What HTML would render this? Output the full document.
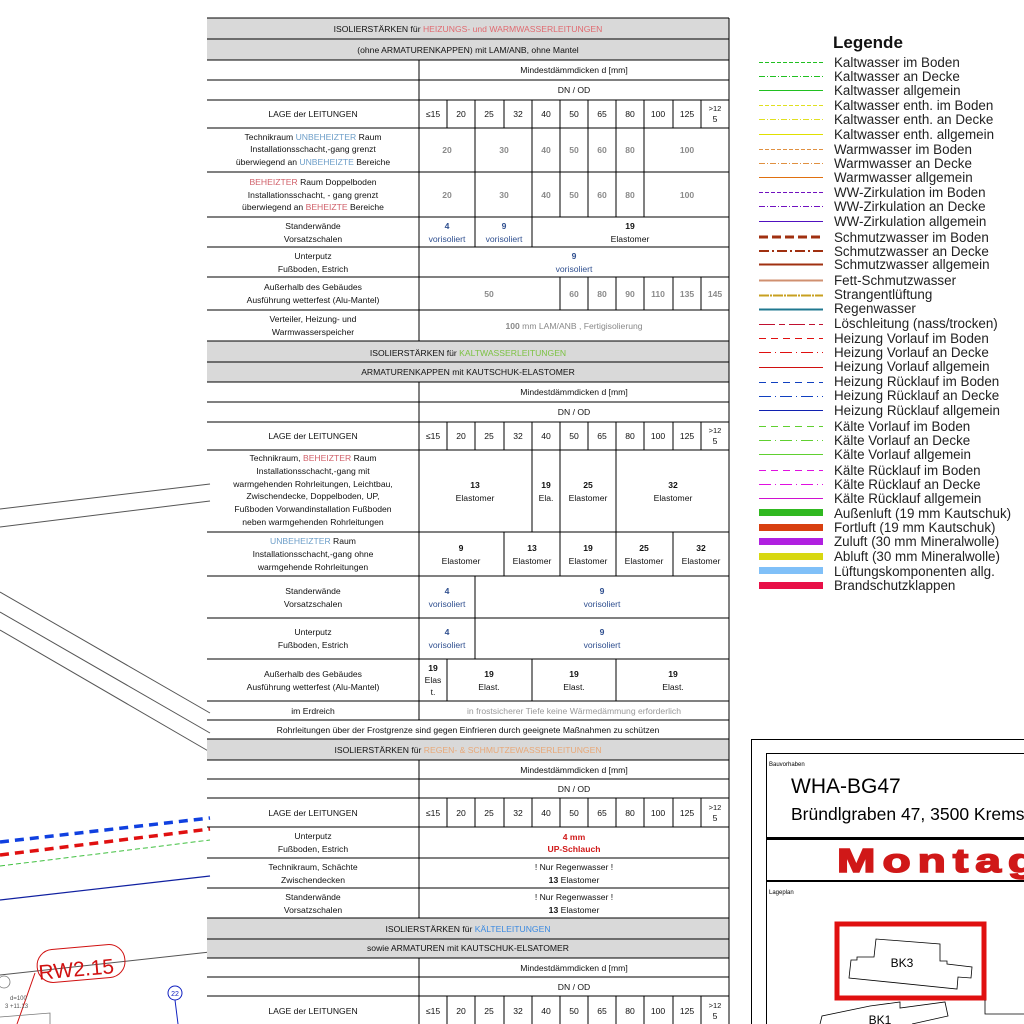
<!DOCTYPE html>
<html><head><meta charset="utf-8"><style>
html,body{margin:0;padding:0;background:#fff;width:1024px;height:1024px;overflow:hidden}
svg{display:block}
.t{font-family:"Liberation Sans",sans-serif;font-size:8.6px;fill:#111;text-anchor:middle}
.g{fill:#8a8a8a;font-weight:bold}
.b{fill:#2f4f8f}
.bb{fill:#2f4f8f;font-weight:bold}
.k{font-weight:bold}
.lg{font-family:"Liberation Sans",sans-serif;font-size:13.4px;fill:#222}
</style></head><body>
<svg width="1024" height="1024" viewBox="0 0 1024 1024" xmlns="http://www.w3.org/2000/svg">
<g stroke="#555" stroke-width="1" fill="none">
<line x1="0" y1="509" x2="210" y2="484"/>
<line x1="0" y1="527" x2="210" y2="501"/>
<line x1="0" y1="592" x2="210" y2="713"/>
<line x1="0" y1="612" x2="210" y2="733"/>
<line x1="0" y1="630" x2="210" y2="752"/>
<line x1="0" y1="975" x2="210" y2="952"/>
</g>
<line x1="0" y1="842" x2="210" y2="818" stroke="#1040e0" stroke-width="3.5" stroke-dasharray="9,6"/>
<line x1="0" y1="855" x2="210" y2="829" stroke="#e01010" stroke-width="3.5" stroke-dasharray="9,6"/>
<line x1="0" y1="866" x2="210" y2="840" stroke="#40c040" stroke-width="1" stroke-dasharray="5,3"/>
<line x1="0" y1="900" x2="210" y2="876" stroke="#1020a0" stroke-width="1.2"/>
<rect x="37" y="947" width="88" height="33" rx="16" transform="rotate(-5 81 963)" fill="none" stroke="#d01010" stroke-width="1"/>
<text x="38" y="976" font-family="Liberation Sans,sans-serif" font-size="21" fill="#d01010" transform="rotate(-5 81 963)">RW2.15</text>
<line x1="35" y1="973" x2="17" y2="1024" stroke="#d01010" stroke-width="1"/>
<circle cx="4" cy="982" r="6" fill="none" stroke="#777" stroke-width="0.8"/>
<text x="10" y="1000" font-family="Liberation Sans,sans-serif" font-size="6" fill="#555">d=100</text>
<text x="5" y="1008" font-family="Liberation Sans,sans-serif" font-size="6" fill="#555">3 +11.13</text>
<path d="M0 1017 L50 1013 L50 1024" fill="none" stroke="#777" stroke-width="0.8"/>
<circle cx="175" cy="993" r="7" fill="none" stroke="#1020c0" stroke-width="1"/>
<text x="175" y="996" font-family="Liberation Sans,sans-serif" font-size="7" fill="#1020c0" text-anchor="middle">22</text>
<line x1="175" y1="1000" x2="178" y2="1024" stroke="#1020c0" stroke-width="1"/>

<g fill="#d9d9d9">
<rect x="207" y="18" width="522" height="42"/>
<rect x="207" y="341" width="522" height="41"/>
<rect x="207" y="739" width="522" height="21"/>
<rect x="207" y="918" width="522" height="40"/>
</g>
<g stroke="#000" stroke-width="1" shape-rendering="crispEdges">
<line x1="207" y1="18" x2="729" y2="18"/>
<line x1="729" y1="18" x2="729" y2="1024"/>
<line x1="419" y1="60" x2="419" y2="341"/>
<line x1="419" y1="382" x2="419" y2="720"/>
<line x1="419" y1="760" x2="419" y2="918"/>
<line x1="419" y1="958" x2="419" y2="1024"/>
<path d="M207 39H729M207 60H729M207 80H729M207 100H729M207 128H729M207 172H729M207 217H729M207 247H729M207 277H729M207 310H729M207 341H729M207 362H729M207 382H729M207 402H729M207 422H729M207 450H729M207 532H729M207 576H729M207 618H729M207 659H729M207 701H729M207 720H729M207 739H729M207 760H729M207 779H729M207 798H729M207 827H729M207 858H729M207 888H729M207 918H729M207 939H729M207 958H729M207 977H729M207 996H729"/>
<path d="M447 100V128M475 100V128M504 100V128M532 100V128M560 100V128M588 100V128M616 100V128M644 100V128M673 100V128M701 100V128"/>
<path d="M447 422V450M475 422V450M504 422V450M532 422V450M560 422V450M588 422V450M616 422V450M644 422V450M673 422V450M701 422V450"/>
<path d="M447 798V827M475 798V827M504 798V827M532 798V827M560 798V827M588 798V827M616 798V827M644 798V827M673 798V827M701 798V827"/>
<path d="M447 996V1024M475 996V1024M504 996V1024M532 996V1024M560 996V1024M588 996V1024M616 996V1024M644 996V1024M673 996V1024M701 996V1024"/>
<path d="M475 128V217M532 128V217M560 128V217M588 128V217M616 128V217M644 128V217"/>
<path d="M475 217V247M532 217V247"/>
<path d="M560 277V310M588 277V310M616 277V310M644 277V310M673 277V310M701 277V310"/>
<path d="M532 450V532M560 450V532M616 450V532"/>
<path d="M504 532V576M560 532V576M616 532V576M673 532V576"/>
<path d="M475 576V659"/>
<path d="M447 659V701M532 659V701M616 659V701"/>
</g>

<g class="t">
<text x="468" y="32">ISOLIERSTÄRKEN  für <tspan fill="#e06a70">HEIZUNGS- und WARMWASSERLEITUNGEN</tspan></text>
<text x="468" y="53">(ohne ARMATURENKAPPEN) mit LAM/ANB, ohne Mantel</text>
<text x="574" y="73">Mindestdämmdicken d [mm]</text>
<text x="574" y="93">DN / OD</text>
<text x="313" y="117">LAGE der LEITUNGEN</text>
<g id="dn1">
<text x="433" y="117">≤15</text><text x="461" y="117">20</text><text x="489" y="117">25</text><text x="518" y="117">32</text><text x="546" y="117">40</text><text x="574" y="117">50</text><text x="602" y="117">65</text><text x="630" y="117">80</text><text x="658" y="117">100</text><text x="687" y="117">125</text><text x="715" y="111" font-size="7.5">&gt;12</text><text x="715" y="122">5</text>
</g>
<text x="313" y="140">Technikraum <tspan fill="#6d9ec8">UNBEHEIZTER</tspan> Raum</text>
<text x="313" y="152">Installationsschacht,-gang grenzt</text>
<text x="313" y="165">überwiegend an <tspan fill="#6d9ec8">UNBEHEIZTE</tspan> Bereiche</text>
<g class="g"><text x="447" y="153">20</text><text x="504" y="153">30</text><text x="546" y="153">40</text><text x="574" y="153">50</text><text x="602" y="153">60</text><text x="630" y="153">80</text><text x="687" y="153">100</text></g>
<text x="313" y="185"><tspan fill="#d0606a">BEHEIZTER</tspan> Raum Doppelboden</text>
<text x="313" y="198">Installationsschacht, - gang grenzt</text>
<text x="313" y="210">überwiegend an <tspan fill="#d0606a">BEHEIZTE</tspan> Bereiche</text>
<g class="g"><text x="447" y="198">20</text><text x="504" y="198">30</text><text x="546" y="198">40</text><text x="574" y="198">50</text><text x="602" y="198">60</text><text x="630" y="198">80</text><text x="687" y="198">100</text></g>
<text x="313" y="229">Standerwände</text><text x="313" y="242">Vorsatzschalen</text>
<text x="447" y="229" class="bb">4</text><text x="447" y="242" class="b">vorisoliert</text>
<text x="504" y="229" class="bb">9</text><text x="504" y="242" class="b">vorisoliert</text>
<text x="630" y="229" class="k">19</text><text x="630" y="242">Elastomer</text>
<text x="313" y="259">Unterputz</text><text x="313" y="272">Fußboden, Estrich</text>
<text x="574" y="259" class="bb">9</text><text x="574" y="272" class="b">vorisoliert</text>
<text x="313" y="290">Außerhalb des Gebäudes</text><text x="313" y="303">Ausführung wetterfest (Alu-Mantel)</text>
<g class="g"><text x="489" y="297">50</text><text x="574" y="297">60</text><text x="602" y="297">80</text><text x="630" y="297">90</text><text x="658" y="297">110</text><text x="687" y="297">135</text><text x="715" y="297">145</text></g>
<text x="313" y="322">Verteiler, Heizung- und</text><text x="313" y="335">Warmwasserspeicher</text>
<text x="574" y="329" fill="#888"><tspan font-weight="bold">100</tspan> mm LAM/ANB , Fertigisolierung</text>

<text x="468" y="356">ISOLIERSTÄRKEN  für <tspan fill="#7cc242">KALTWASSERLEITUNGEN</tspan></text>
<text x="468" y="375">ARMATURENKAPPEN mit KAUTSCHUK-ELASTOMER</text>
<text x="574" y="395">Mindestdämmdicken d [mm]</text>
<text x="574" y="415">DN / OD</text>
<text x="313" y="439">LAGE der LEITUNGEN</text>
<use href="#dn1" y="322"/>
<text x="313" y="461">Technikraum, <tspan fill="#d0606a">BEHEIZTER</tspan> Raum</text>
<text x="313" y="474">Installationsschacht,-gang mit</text>
<text x="313" y="487">warmgehenden Rohrleitungen, Leichtbau,</text>
<text x="313" y="499">Zwischendecke, Doppelboden, UP,</text>
<text x="313" y="512">Fußboden Vorwandinstallation Fußboden</text>
<text x="313" y="525">neben warmgehenden Rohrleitungen</text>
<text x="475" y="488" class="k">13</text><text x="475" y="501">Elastomer</text>
<text x="546" y="488" class="k">19</text><text x="546" y="501">Ela.</text>
<text x="588" y="488" class="k">25</text><text x="588" y="501">Elastomer</text>
<text x="673" y="488" class="k">32</text><text x="673" y="501">Elastomer</text>
<text x="313" y="544"><tspan fill="#6d9ec8">UNBEHEIZTER</tspan> Raum</text>
<text x="313" y="557">Installationsschacht,-gang ohne</text>
<text x="313" y="570">warmgehende Rohrleitungen</text>
<text x="461" y="551" class="k">9</text><text x="461" y="564">Elastomer</text>
<text x="532" y="551" class="k">13</text><text x="532" y="564">Elastomer</text>
<text x="588" y="551" class="k">19</text><text x="588" y="564">Elastomer</text>
<text x="644" y="551" class="k">25</text><text x="644" y="564">Elastomer</text>
<text x="701" y="551" class="k">32</text><text x="701" y="564">Elastomer</text>
<text x="313" y="594">Standerwände</text><text x="313" y="607">Vorsatzschalen</text>
<text x="447" y="594" class="bb">4</text><text x="447" y="607" class="b">vorisoliert</text>
<text x="602" y="594" class="bb">9</text><text x="602" y="607" class="b">vorisoliert</text>
<text x="313" y="635">Unterputz</text><text x="313" y="648">Fußboden, Estrich</text>
<text x="447" y="635" class="bb">4</text><text x="447" y="648" class="b">vorisoliert</text>
<text x="602" y="635" class="bb">9</text><text x="602" y="648" class="b">vorisoliert</text>
<text x="313" y="677">Außerhalb des Gebäudes</text><text x="313" y="690">Ausführung wetterfest (Alu-Mantel)</text>
<text x="433" y="671" class="k">19</text><text x="433" y="683">Elas</text><text x="433" y="695">t.</text>
<text x="489" y="677" class="k">19</text><text x="489" y="690">Elast.</text>
<text x="574" y="677" class="k">19</text><text x="574" y="690">Elast.</text>
<text x="673" y="677" class="k">19</text><text x="673" y="690">Elast.</text>
<text x="313" y="714">im Erdreich</text>
<text x="574" y="714" fill="#999">in frostsicherer Tiefe keine Wärmedämmung erforderlich</text>
<text x="468" y="733">Rohrleitungen über der Frostgrenze sind gegen Einfrieren durch geeignete Maßnahmen zu schützen</text>

<text x="468" y="753">ISOLIERSTÄRKEN  für <tspan fill="#e8a878">REGEN- &amp; SCHMUTZEWASSERLEITUNGEN</tspan></text>
<text x="574" y="773">Mindestdämmdicken d [mm]</text>
<text x="574" y="792">DN / OD</text>
<text x="313" y="816">LAGE der LEITUNGEN</text>
<use href="#dn1" y="699"/>
<text x="313" y="839">Unterputz</text><text x="313" y="852">Fußboden, Estrich</text>
<text x="574" y="840" fill="#d01818" font-weight="bold">4 mm</text><text x="574" y="852" fill="#d01818" font-weight="bold">UP-Schlauch</text>
<text x="313" y="870">Technikraum, Schächte</text><text x="313" y="883">Zwischendecken</text>
<text x="574" y="870">! Nur Regenwasser !</text><text x="574" y="883"><tspan font-weight="bold">13</tspan> Elastomer</text>
<text x="313" y="900">Standerwände</text><text x="313" y="913">Vorsatzschalen</text>
<text x="574" y="900">! Nur Regenwasser !</text><text x="574" y="913"><tspan font-weight="bold">13</tspan> Elastomer</text>
<text x="468" y="932">ISOLIERSTÄRKEN  für <tspan fill="#3c8ae0">KÄLTELEITUNGEN</tspan></text>
<text x="468" y="951">sowie ARMATUREN mit KAUTSCHUK-ELSATOMER</text>
<text x="574" y="971">Mindestdämmdicken d [mm]</text>
<text x="574" y="990">DN / OD</text>
<text x="313" y="1014">LAGE der LEITUNGEN</text>
<use href="#dn1" y="897"/>
</g>

<text x="833" y="48" font-family="Liberation Sans,sans-serif" font-size="17" font-weight="bold" fill="#111">Legende</text>
<g fill="none" transform="translate(0,0.5)">
<line x1="759" y1="62" x2="823" y2="62" stroke="#20c020" stroke-dasharray="4,2"/>
<line x1="759" y1="76" x2="823" y2="76" stroke="#20c020" stroke-dasharray="6,2,1,2"/>
<line x1="759" y1="90" x2="823" y2="90" stroke="#20c020"/>
<line x1="759" y1="105" x2="823" y2="105" stroke="#e0e020" stroke-dasharray="4,2"/>
<line x1="759" y1="119" x2="823" y2="119" stroke="#e0e020" stroke-dasharray="6,2,1,2"/>
<line x1="759" y1="134" x2="823" y2="134" stroke="#e0e000"/>
<line x1="759" y1="149" x2="823" y2="149" stroke="#e09040" stroke-dasharray="4,2"/>
<line x1="759" y1="163" x2="823" y2="163" stroke="#e09040" stroke-dasharray="6,2,1,2"/>
<line x1="759" y1="177" x2="823" y2="177" stroke="#e07010"/>
<line x1="759" y1="192" x2="823" y2="192" stroke="#7010c0" stroke-dasharray="4,2"/>
<line x1="759" y1="206" x2="823" y2="206" stroke="#7010c0" stroke-dasharray="6,2,1,2"/>
<line x1="759" y1="221" x2="823" y2="221" stroke="#5010c0"/>
<line x1="759" y1="264" x2="823" y2="264" stroke="#a03010" stroke-width="2"/>
<line x1="759" y1="280" x2="823" y2="280" stroke="#d09070" stroke-width="2"/>
<line x1="759" y1="295" x2="823" y2="295" stroke="#c8a020" stroke-width="2" stroke-dasharray="10,1,2,1"/>
<line x1="759" y1="309" x2="823" y2="309" stroke="#207890" stroke-width="2"/>
<line x1="759" y1="324" x2="823" y2="324" stroke="#c01030" stroke-dasharray="16,4,6,4"/>
<line x1="759" y1="338" x2="823" y2="338" stroke="#e01010" stroke-dasharray="7,5"/>
<line x1="759" y1="352" x2="823" y2="352" stroke="#e01010" stroke-dasharray="12,4,1,4"/>
<line x1="759" y1="367" x2="823" y2="367" stroke="#d01010"/>
<line x1="759" y1="382" x2="823" y2="382" stroke="#1040c0" stroke-dasharray="7,5"/>
<line x1="759" y1="396" x2="823" y2="396" stroke="#1040c0" stroke-dasharray="12,4,1,4"/>
<line x1="759" y1="410" x2="823" y2="410" stroke="#1020b0"/>
<line x1="759" y1="426" x2="823" y2="426" stroke="#60d030" stroke-dasharray="7,5"/>
<line x1="759" y1="440" x2="823" y2="440" stroke="#60d030" stroke-dasharray="12,4,1,4"/>
<line x1="759" y1="454" x2="823" y2="454" stroke="#60d030"/>
<line x1="759" y1="470" x2="823" y2="470" stroke="#e010e0" stroke-dasharray="7,5"/>
<line x1="759" y1="484" x2="823" y2="484" stroke="#e010e0" stroke-dasharray="12,4,1,4"/>
<line x1="759" y1="498" x2="823" y2="498" stroke="#d010d0"/>
</g>
<line x1="759" y1="237" x2="823" y2="237" stroke="#a03010" stroke-width="3" stroke-dasharray="9,4"/>
<line x1="759" y1="251" x2="823" y2="251" stroke="#a03010" stroke-width="2" stroke-dasharray="10,3,2,3"/>
<rect x="759" y="509" width="64" height="7" fill="#30b820"/>
<rect x="759" y="524" width="64" height="7" fill="#d84010"/>
<rect x="759" y="538" width="64" height="7" fill="#b020e0"/>
<rect x="759" y="553" width="64" height="7" fill="#d8d810"/>
<rect x="759" y="567" width="64" height="7" fill="#80c0f8"/>
<rect x="759" y="582" width="64" height="7" fill="#e81048"/>
<g class="lg">
<text x="834" y="67">Kaltwasser im Boden</text>
<text x="834" y="81">Kaltwasser an Decke</text>
<text x="834" y="95">Kaltwasser allgemein</text>
<text x="834" y="110">Kaltwasser enth. im Boden</text>
<text x="834" y="124">Kaltwasser enth. an Decke</text>
<text x="834" y="139">Kaltwasser enth. allgemein</text>
<text x="834" y="154">Warmwasser im Boden</text>
<text x="834" y="168">Warmwasser an Decke</text>
<text x="834" y="182">Warmwasser allgemein</text>
<text x="834" y="197">WW-Zirkulation im Boden</text>
<text x="834" y="211">WW-Zirkulation an Decke</text>
<text x="834" y="226">WW-Zirkulation allgemein</text>
<text x="834" y="242">Schmutzwasser im Boden</text>
<text x="834" y="256">Schmutzwasser an Decke</text>
<text x="834" y="269">Schmutzwasser allgemein</text>
<text x="834" y="285">Fett-Schmutzwasser</text>
<text x="834" y="299">Strangentlüftung</text>
<text x="834" y="313">Regenwasser</text>
<text x="834" y="328">Löschleitung  (nass/trocken)</text>
<text x="834" y="343">Heizung Vorlauf im Boden</text>
<text x="834" y="357">Heizung Vorlauf an Decke</text>
<text x="834" y="371">Heizung Vorlauf allgemein</text>
<text x="834" y="386">Heizung Rücklauf im Boden</text>
<text x="834" y="400">Heizung Rücklauf an Decke</text>
<text x="834" y="415">Heizung Rücklauf allgemein</text>
<text x="834" y="431">Kälte Vorlauf im Boden</text>
<text x="834" y="445">Kälte Vorlauf an Decke</text>
<text x="834" y="459">Kälte Vorlauf allgemein</text>
<text x="834" y="475">Kälte Rücklauf im Boden</text>
<text x="834" y="489">Kälte Rücklauf an Decke</text>
<text x="834" y="503">Kälte Rücklauf allgemein</text>
<text x="834" y="518">Außenluft (19 mm Kautschuk)</text>
<text x="834" y="532">Fortluft (19 mm Kautschuk)</text>
<text x="834" y="546">Zuluft (30 mm Mineralwolle)</text>
<text x="834" y="561">Abluft (30 mm Mineralwolle)</text>
<text x="834" y="576">Lüftungskomponenten allg.</text>
<text x="834" y="590">Brandschutzklappen</text>
</g>

<g fill="none" stroke="#000">
<path d="M751.5 1024V739.5H1024"/>
<path d="M766.5 1024V753.5H1024"/>
<line x1="766" y1="838.5" x2="1024" y2="838.5" stroke-width="3"/>
<line x1="766" y1="881" x2="1024" y2="881" stroke-width="2"/>
</g>
<text x="769" y="766" font-family="Liberation Sans,sans-serif" font-size="6" fill="#000">Bauvorhaben</text>
<text x="791" y="793" font-family="Liberation Sans,sans-serif" font-size="21" fill="#000">WHA-BG47</text>
<text x="791" y="820" font-family="Liberation Sans,sans-serif" font-size="17.5" fill="#000">Bründlgraben 47, 3500 Krems</text>
<text transform="translate(837,872) scale(1.4,1)" x="0" y="0" font-family="Liberation Sans,sans-serif" font-size="33" font-weight="bold" fill="#d01818" letter-spacing="5" stroke="#d01818" stroke-width="1.5">Montage</text>
<text x="769" y="894" font-family="Liberation Sans,sans-serif" font-size="6" fill="#000">Lageplan</text>
<rect x="837" y="924" width="147" height="74" fill="none" stroke="#e01010" stroke-width="5"/>
<path d="M851 960 L857 960 L857 957 L874 957 L876 939 L940 944 L940 961 L947 961 L947 964 L972 967 L971 978 L958 977 L957 989 L849 978 Z" fill="#fff" stroke="#000" stroke-width="0.8"/>
<text x="902" y="967" font-family="Liberation Sans,sans-serif" font-size="12" fill="#000" text-anchor="middle">BK3</text>
<path d="M820 1024 L822 1016 L870 1006 L900 1002 L900 1008 L945 1002 L948 1016 L912 1024" fill="#fff" stroke="#000" stroke-width="0.8"/>
<text x="880" y="1024" font-family="Liberation Sans,sans-serif" font-size="12" fill="#000" text-anchor="middle">BK1</text>
<path d="M985 1000 L985 1014 L1024 1014" fill="none" stroke="#000" stroke-width="0.8"/>
</svg>
</body></html>
